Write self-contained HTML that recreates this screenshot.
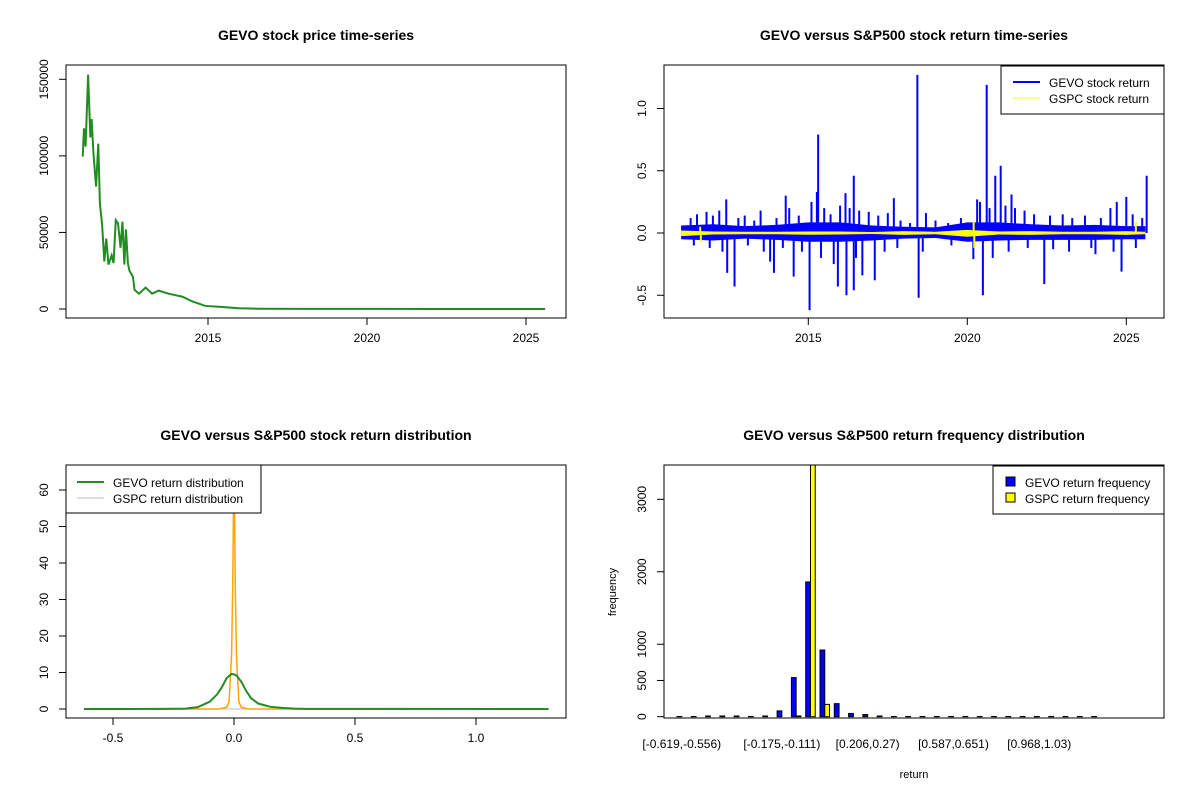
<!DOCTYPE html>
<html><head><meta charset="utf-8"><style>
body{margin:0;background:#fff}
svg text{font-family:"Liberation Sans",Arial,sans-serif}
</style></head><body>
<svg id="c" width="1200" height="800" xmlns="http://www.w3.org/2000/svg"></svg>
<script>
// ---------- data ----------
const priceYears=[2011.06,2011.1,2011.15,2011.23,2011.3,2011.34,2011.4,2011.48,2011.55,2011.6,2011.67,2011.74,2011.8,2011.87,2011.97,2012.03,2012.1,2012.17,2012.25,2012.31,2012.37,2012.42,2012.48,2012.53,2012.64,2012.69,2012.83,2013.04,2013.24,2013.45,2013.76,2014.2,2014.5,2014.92,2015.34,2015.97,2016.6,2018,2020,2022,2024,2025.6];
const priceValues=[99500,118000,106000,153000,112000,124000,101000,80000,108000,69000,55000,31000,46000,29000,35000,30000,58000,56000,40000,57000,29000,52000,30000,25000,21000,12500,10000,14000,10000,12000,10000,8000,5000,2000,1500,500,200,100,50,20,10,5];

const bandYears=[2011,2012,2013,2014,2015,2016,2017,2018,2019,2020,2021,2022,2023,2024,2025,2025.6];
const gevoHi=[0.06,0.07,0.055,0.065,0.085,0.085,0.06,0.05,0.045,0.085,0.085,0.07,0.06,0.065,0.055,0.055];
const gevoLo=[-0.05,-0.06,-0.045,-0.055,-0.07,-0.07,-0.06,-0.045,-0.04,-0.07,-0.06,-0.055,-0.055,-0.055,-0.05,-0.05];
const spikeYears=[2015.31,2018.43,2020.61,2025.64,2016.43,2021.05,2020.88,2015.27,2016.17,2012.42,2014.29,2017.69,2021.39,2025.0,2020.31,2015.04,2016.2,2016.43,2015.93,2018.47,2020.49,2022.42,2012.68,2012.45,2013.92,2014.54,2017.09,2016.7,2024.85,2024.03,2020.19,2013.8,
2011.3,2011.5,2011.8,2012.0,2012.2,2012.8,2013.0,2013.3,2013.5,2014.0,2014.4,2014.7,2015.1,2015.5,2015.7,2016.0,2016.3,2016.6,2016.9,2017.2,2017.5,2017.9,2018.2,2018.7,2019.0,2019.4,2019.8,2020.4,2020.7,2021.2,2021.5,2021.8,2022.1,2022.6,2023.0,2023.3,2023.7,2024.2,2024.5,2024.7,2025.2,2025.5,
2011.4,2011.9,2012.3,2013.1,2013.6,2014.2,2014.8,2015.4,2015.8,2016.5,2017.4,2017.8,2018.6,2019.5,2020.8,2021.3,2021.9,2022.7,2023.2,2023.9,2024.6,2025.3];
const spikeValues=[0.79,1.27,1.19,0.46,0.46,0.54,0.46,0.33,0.32,0.27,0.30,0.28,0.31,0.29,0.27,-0.62,-0.50,-0.46,-0.43,-0.52,-0.50,-0.41,-0.43,-0.32,-0.32,-0.35,-0.38,-0.34,-0.31,-0.17,-0.21,-0.23,
0.12,0.15,0.17,0.14,0.18,0.12,0.14,0.1,0.18,0.12,0.2,0.14,0.25,0.2,0.15,0.22,0.2,0.18,0.17,0.14,0.16,0.1,0.08,0.16,0.1,0.08,0.12,0.25,0.2,0.22,0.2,0.18,0.15,0.14,0.15,0.12,0.14,0.12,0.2,0.25,0.15,0.12,
-0.1,-0.12,-0.15,-0.1,-0.15,-0.12,-0.15,-0.2,-0.25,-0.2,-0.15,-0.12,-0.15,-0.1,-0.2,-0.15,-0.12,-0.13,-0.15,-0.12,-0.15,-0.12];
const gspcHi=[0.02,0.012,0.01,0.01,0.012,0.012,0.008,0.015,0.01,0.025,0.012,0.015,0.01,0.01,0.015,0.01];
const gspcLo=[-0.025,-0.012,-0.01,-0.01,-0.014,-0.012,-0.008,-0.015,-0.01,-0.03,-0.012,-0.015,-0.01,-0.01,-0.015,-0.01];
const gspcSpikeYears=[2011.6,2011.62,2020.2,2020.22,2025.3];
const gspcSpikeValues=[0.05,-0.07,0.09,-0.12,0.09];

const densX=[-0.62,-0.3,-0.2,-0.15,-0.1,-0.07,-0.05,-0.03,-0.01,0,0.01,0.03,0.05,0.07,0.1,0.15,0.2,0.25,0.3,1.3];
const gevoDens=[0,0.02,0.1,0.5,2,4,6,8.5,9.6,9.5,9.2,7.5,5,3,1.5,0.6,0.3,0.1,0.05,0];
const gspcX=[-0.62,-0.06,-0.03,-0.02,-0.01,-0.005,0,0.005,0.01,0.02,0.03,0.06,1.3];
const gspcDens=[0,0,0.5,2,15,35,70,35,15,2,0.5,0,0];

const binLabels=["[-0.619,-0.556)","[-0.175,-0.111)","[0.206,0.27)","[0.587,0.651)","[0.968,1.03)"];
const binLabelIdx=[0,7,13,19,25];
const gevoFreq=[3,3,10,10,10,3,10,80,540,1860,920,180,45,30,10,3,3,3,3,3,3,3,3,3,3,3,3,3,3,3];
const gspcFreq=[0,0,0,0,0,0,0,0,10,3700,170,0,0,0,0,0,0,0,0,0,0,0,0,0,0,0,0,0,0,0];

// ---------- helpers ----------
const S=document.getElementById('c');const NS='http://www.w3.org/2000/svg';
function el(t,a,p){const e=document.createElementNS(NS,t);for(const k in a)e.setAttribute(k,a[k]);(p||S).appendChild(e);return e;}
function txt(s,x,y,o,p){const e=el('text',Object.assign({x:x,y:y,'font-size':12,'text-anchor':'middle',fill:'#000'},o||{}),p);e.textContent=s;return e;}
function clip(id,x,y,w,h){const d=el('clipPath',{id:id});el('rect',{x:x,y:y,width:w,height:h},d);}
function lin(d0,d1,r0,r1){return v=>r0+(v-d0)*(r1-r0)/(d1-d0);}

// ---------- panel 1 ----------
{const g=el('g',{});
const X=lin(2015,2020,208,367),Y=lin(0,150000,309,79.3);
clip('c1',66,65,500,253);
let d=priceYears.map((t,i)=>(i?'L':'M')+X(t)+' '+Y(priceValues[i])).join(' ');
const p=el('path',{d:d,fill:'none',stroke:'#228B22','stroke-width':2,'clip-path':'url(#c1)'},g);

el('rect',{x:66,y:65,width:500,height:253,fill:'none',stroke:'#000'},g);
txt('GEVO stock price time-series',316,40,{'font-size':14,'font-weight':'bold'},g);
[2015,2020,2025].forEach(v=>{el('line',{x1:X(v),x2:X(v),y1:318,y2:325,stroke:'#000'},g);txt(v,X(v),342,{},g);});
[0,50000,100000,150000].forEach(v=>{el('line',{x1:59,x2:66,y1:Y(v),y2:Y(v),stroke:'#000'},g);txt(v,0,0,{transform:`translate(48,${Y(v)}) rotate(-90)`},g);});
}
// ---------- panel 2 ----------
{const g=el('g',{});
const X=lin(2015,2020,808.3,967.3),Y=lin(0,1,233,108.5);
clip('c2',664,65,500,253);
const cg=el('g',{'clip-path':'url(#c2)'},g);
let up=bandYears.map((t,i)=>(i?'L':'M')+X(t)+' '+Y(gevoHi[i])).join(' ');
let dn=bandYears.slice().reverse().map((t,j)=>{const i=bandYears.length-1-j;return 'L'+X(t)+' '+Y(gevoLo[i]);}).join(' ');
const b=el('path',{d:up+dn+'Z',fill:'#0000FF'},cg);
spikeYears.forEach((t,i)=>{const l=el('line',{x1:X(t),x2:X(t),y1:Y(0),y2:Y(spikeValues[i]),stroke:'#0000FF','stroke-width':2},cg);
});
let up2=bandYears.map((t,i)=>(i?'L':'M')+X(t)+' '+Y(gspcHi[i])).join(' ');
let dn2=bandYears.slice().reverse().map((t,j)=>{const i=bandYears.length-1-j;return 'L'+X(t)+' '+Y(gspcLo[i]);}).join(' ');
const b2=el('path',{d:up2+dn2+'Z',fill:'#FFFF00'},cg);
gspcSpikeYears.forEach((t,i)=>{const l=el('line',{x1:X(t),x2:X(t),y1:Y(0),y2:Y(gspcSpikeValues[i]),stroke:'#FFFF00','stroke-width':2},cg);
});
el('rect',{x:664,y:65,width:500,height:253,fill:'none',stroke:'#000'},g);
txt('GEVO versus S&P500 stock return time-series',914,40,{'font-size':14,'font-weight':'bold'},g);
[2015,2020,2025].forEach(v=>{el('line',{x1:X(v),x2:X(v),y1:318,y2:325,stroke:'#000'},g);txt(v,X(v),342,{},g);});
[-0.5,0,0.5,1].forEach(v=>{el('line',{x1:657,x2:664,y1:Y(v),y2:Y(v),stroke:'#000'},g);txt(v.toFixed(1),0,0,{transform:`translate(646,${Y(v)}) rotate(-90)`},g);});
const lg=el('g',{},g);
el('rect',{x:1001,y:66,width:163,height:48,fill:'#fff',stroke:'#000'},lg);
el('line',{x1:1013,x2:1040,y1:82,y2:82,stroke:'#0000FF','stroke-width':2},lg);txt('GEVO stock return',1049,87,{'text-anchor':'start'},lg);
el('line',{x1:1013,x2:1040,y1:98,y2:98,stroke:'#FFFF00','stroke-width':1},lg);txt('GSPC stock return',1049,103,{'text-anchor':'start'},lg);
}
// ---------- panel 3 ----------
{const g=el('g',{});
const X=lin(0,0.5,234,355),Y=lin(0,10,709,672.5);
clip('c3',66,465,500,253);
const cg=el('g',{'clip-path':'url(#c3)'},g);
el('line',{x1:X(-0.62),x2:X(1.3),y1:Y(0),y2:Y(0),stroke:'#bbb'},cg);
let d=gspcX.map((t,i)=>(i?'L':'M')+X(t)+' '+Y(gspcDens[i])).join(' ');
const o=el('path',{d:d,fill:'none',stroke:'#FFA500','stroke-width':1.5},cg);
let d2=densX.map((t,i)=>(i?'L':'M')+X(t)+' '+Y(gevoDens[i])).join(' ');
const gr=el('path',{d:d2,fill:'none',stroke:'#228B22','stroke-width':2},cg);
el('rect',{x:66,y:465,width:500,height:253,fill:'none',stroke:'#000'},g);
txt('GEVO versus S&P500 stock return distribution',316,440,{'font-size':14,'font-weight':'bold'},g);
[-0.5,0,0.5,1].forEach(v=>{el('line',{x1:X(v),x2:X(v),y1:718,y2:725,stroke:'#000'},g);txt(v.toFixed(1),X(v),742,{},g);});
[0,10,20,30,40,50,60].forEach(v=>{el('line',{x1:59,x2:66,y1:Y(v),y2:Y(v),stroke:'#000'},g);txt(v,0,0,{transform:`translate(48,${Y(v)}) rotate(-90)`},g);});
const lg=el('g',{},g);
el('rect',{x:66,y:465,width:195,height:48,fill:'#fff',stroke:'#000'},lg);
el('line',{x1:77,x2:104,y1:482,y2:482,stroke:'#228B22','stroke-width':2},lg);txt('GEVO return distribution',113,487,{'text-anchor':'start'},lg);
el('line',{x1:77,x2:104,y1:498,y2:498,stroke:'#bbb'},lg);txt('GSPC return distribution',113,503,{'text-anchor':'start'},lg);
}
// ---------- panel 4 ----------
{const g=el('g',{});
const Y=lin(0,3000,716.7,499.3);const pitch=14.3,bw=pitch/3,x0=677;
clip('c4',664,465,500,253);
const cg=el('g',{'clip-path':'url(#c4)'},g);
gevoFreq.forEach((v,i)=>{const x=x0+i*pitch;
const r=el('rect',{x:x,y:Y(v),width:bw,height:Y(0)-Y(v),fill:'#0000FF',stroke:'#000','stroke-width':1},cg);

const v2=gspcFreq[i];const r2=el('rect',{x:x+bw,y:Y(v2),width:bw,height:Y(0)-Y(v2),fill:'#FFFF00',stroke:'#000','stroke-width':1},cg);
});
el('rect',{x:664,y:465,width:500,height:253,fill:'none',stroke:'#000'},g);
txt('GEVO versus S&P500 return frequency distribution',914,440,{'font-size':14,'font-weight':'bold'},g);
binLabels.forEach((s,j)=>txt(s,x0+binLabelIdx[j]*pitch+bw,748,{},g));
[0,500,1000,2000,3000].forEach(v=>{el('line',{x1:657,x2:664,y1:Y(v),y2:Y(v),stroke:'#000'},g);txt(v,0,0,{transform:`translate(646,${Y(v)}) rotate(-90)`},g);});
txt('frequency',0,0,{transform:'translate(616,592) rotate(-90)','font-size':11},g);
txt('return',914,778,{'font-size':11},g);
const lg=el('g',{},g);
el('rect',{x:993,y:466,width:171,height:48,fill:'#fff',stroke:'#000'},lg);
el('rect',{x:1006,y:477,width:9,height:9,fill:'#0000FF',stroke:'#000'},lg);txt('GEVO return frequency',1025,487,{'text-anchor':'start'},lg);
el('rect',{x:1006,y:493,width:9,height:9,fill:'#FFFF00',stroke:'#000'},lg);txt('GSPC return frequency',1025,503,{'text-anchor':'start'},lg);
}
</script>
</body></html>
